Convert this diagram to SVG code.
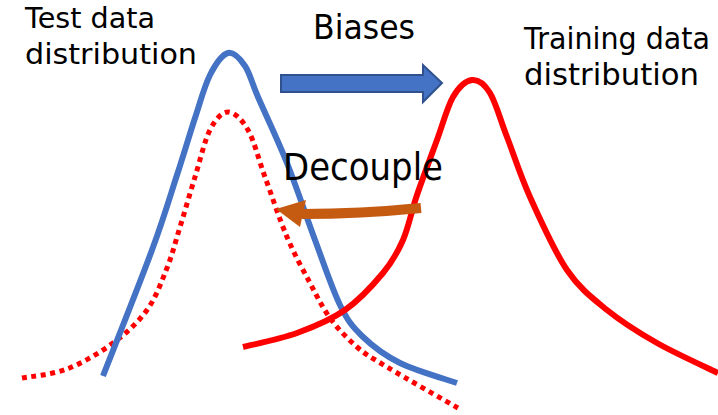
<svg xmlns="http://www.w3.org/2000/svg" width="718" height="415" viewBox="0 0 718 415">
<style>
.curve{fill:none;stroke-linecap:butt;stroke-linejoin:round}
.blue{stroke:#4472C4;stroke-width:6}
.red{stroke:#FF0000;stroke-width:6}
.dot{stroke:#FF0000;stroke-width:5;stroke-dasharray:5 4.5}
.lbl{font-family:"DejaVu Sans","Open Sans",sans-serif;fill:#000000}
</style>
<rect width="718" height="415" fill="#FFFFFF"/>
<g id="curves">
<path id="test-dotted" class="curve dot" d="M22 378 C29.5 376.5 51.8 374.8 67 369 C82.2 363.2 99.7 352.8 113 343 C126.3 333.2 138 322.5 147 310 C156 297.5 161.5 281.8 167 268 C172.5 254.2 175.3 242.2 180 227 C184.7 211.8 190 193.2 195 177 C200 160.8 204.5 140.8 210 130 C215.5 119.2 221.7 112 228 112 C234.3 112 241.8 119.2 248 130 C254.2 140.8 258.5 159.2 265 177 C271.5 194.8 279.5 219.3 287 237 C294.5 254.7 302.8 269.5 310 283 C317.2 296.5 322.2 307.3 330 318 C337.8 328.7 347.5 338.8 357 347 C366.5 355.2 370.2 356.8 387 367 C403.8 377.2 446.2 401.2 458 408"/>
<path id="test-curve" class="curve blue" d="M103 376 C111.2 355 139.7 283.5 152 250 C164.3 216.5 169.8 197 177 175 C184.2 153 189.5 134.7 195 118 C200.5 101.3 204.5 85.8 210 75 C215.5 64.2 222.2 54.5 228 53 C233.8 51.5 240 58.7 245 66 C250 73.3 251 80.8 258 97 C265 113.2 277.5 139.2 287 163 C296.5 186.8 306.2 216.3 315 240 C323.8 263.7 332.2 289 340 305 C347.8 321 352 326.3 362 336 C372 345.7 384.2 355.2 400 363 C415.8 370.8 447.5 379.7 457 383"/>
<path id="train-curve" class="curve red" d="M243 347 C252 344.7 280 339.2 297 333 C314 326.8 330.7 320 345 310 C359.3 300 373.3 284.7 383 273 C392.7 261.3 397.3 253 403 240 C408.7 227 411.3 211.7 417 195 C422.7 178.3 431 156.3 437 140 C443 123.7 447.2 107 453 97 C458.8 87 465.8 80.7 472 80 C478.2 79.3 484.2 83.5 490 93 C495.8 102.5 500.3 119.7 507 137 C513.7 154.3 520 174.8 530 197 C540 219.2 554.2 251.2 567 270 C579.8 288.8 592 297.8 607 310 C622 322.2 638.5 332.5 657 343 C675.5 353.5 707.8 368 718 373"/>
</g>
<g id="connectors">
<g id="biases-arrow">
<polygon points="281,75 423,75 423,65 442,83 423,102 423,92 281,92" fill="#4472C4" stroke="#2F528F" stroke-width="2" stroke-linejoin="miter"/>
</g>
<g id="decouple-arrow">
<path d="M421 208 Q360 214 302 214" fill="none" stroke="#C55A11" stroke-width="10"/>
<polygon points="276,209 306,200 300,227" fill="#C55A11"/>
</g>
</g>
<g id="label-test">
<text class="lbl" x="25" y="28" font-size="29" textLength="130" lengthAdjust="spacingAndGlyphs">Test data</text>
<text class="lbl" x="25" y="64" font-size="29" textLength="172" lengthAdjust="spacingAndGlyphs">distribution</text>
</g>
<g id="label-train">
<text class="lbl" x="524" y="49" font-size="30" textLength="186" lengthAdjust="spacingAndGlyphs">Training data</text>
<text class="lbl" x="524" y="85" font-size="30" textLength="175" lengthAdjust="spacingAndGlyphs">distribution</text>
</g>
<g id="label-biases">
<text class="lbl" x="313" y="39" font-size="34" textLength="102" lengthAdjust="spacingAndGlyphs">Biases</text>
</g>
<g id="label-decouple">
<text class="lbl" x="283" y="180" font-size="37" textLength="160" lengthAdjust="spacingAndGlyphs">Decouple</text>
</g>
</svg>
